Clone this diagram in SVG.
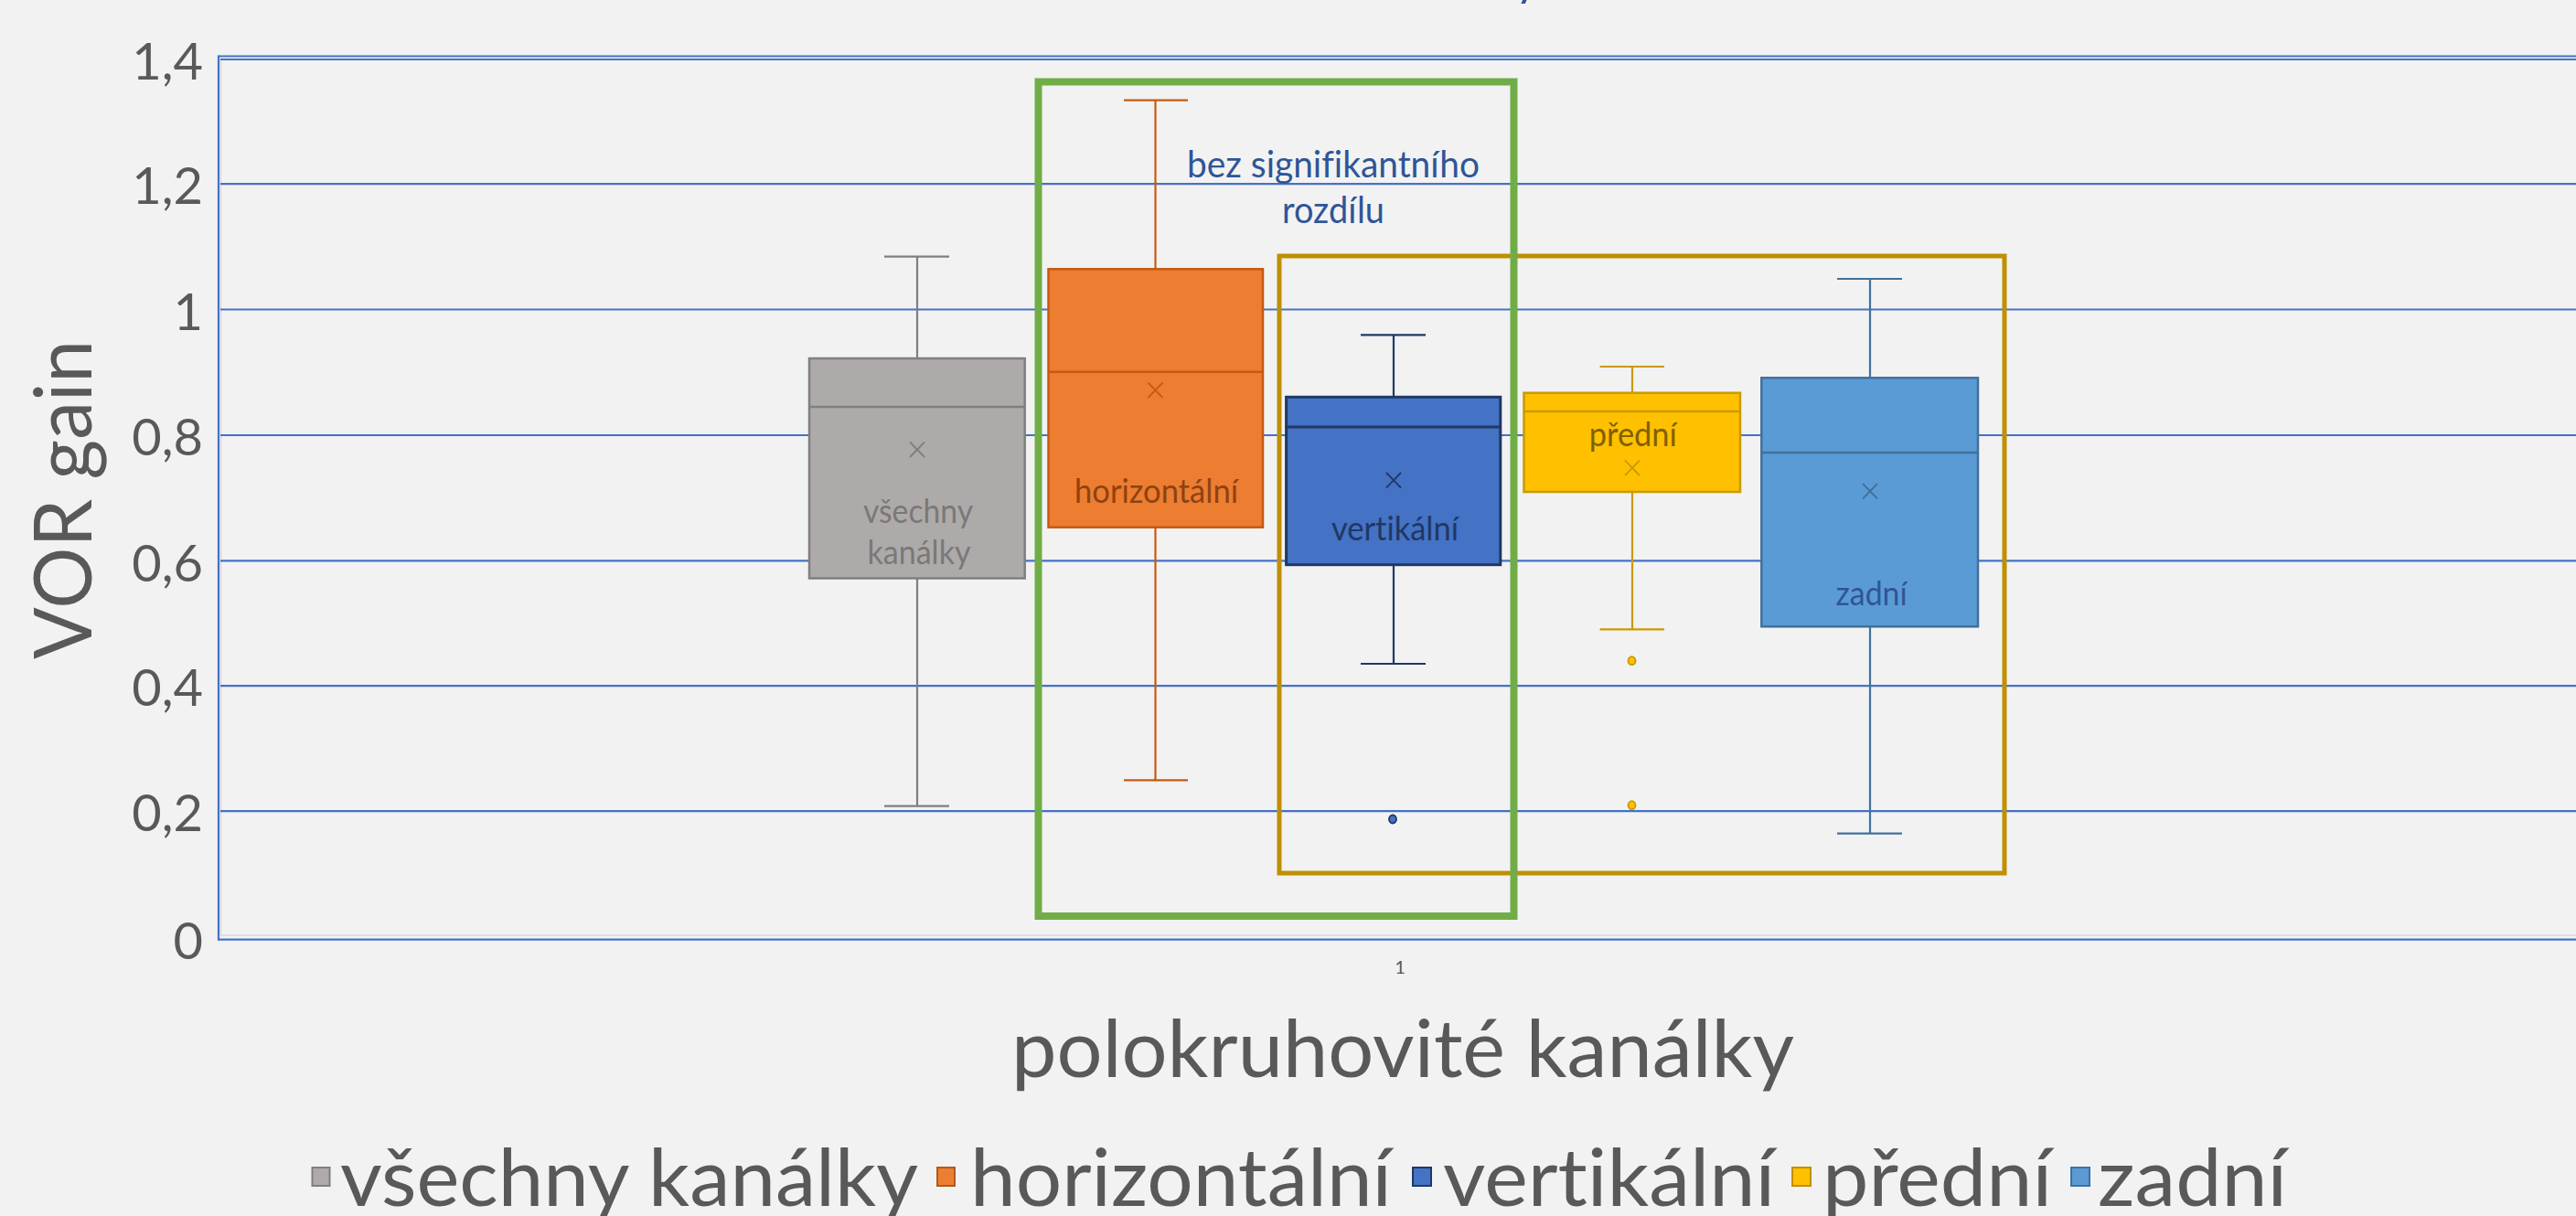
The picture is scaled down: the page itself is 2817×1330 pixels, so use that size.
<svg xmlns="http://www.w3.org/2000/svg" width="2817" height="1330" viewBox="0 0 2817 1330">
<style>
  text { font-family: Lato, "Open Sans", "Liberation Sans", sans-serif; font-variant-ligatures: none; font-feature-settings: "liga" 0, "clig" 0, "dlig" 0; }
  .tick { font-size: 56px; fill: #595959; text-anchor: end; }
  .big { font-size: 88px; fill: #595959; }
  .grid { stroke: #4472c4; stroke-width: 2.2; fill: none; }
  .border { stroke: #d9d9d9; stroke-width: 1.5; fill: none; }
  .lbl { font-size: 37px; text-anchor: middle; }
  .ann { font-size: 40px; fill: #2f5597; text-anchor: middle; }
  .w { stroke-width: 2.2; fill: none; }
  .mean { stroke-width: 1.8; fill: none; }
  .bx { stroke-width: 2.5; }
  .g-s { stroke: #7f7f7f; }  .g-f { fill: #aeaaaa; }
  .o-s { stroke: #c55a11; }  .o-f { fill: #ed7d31; }
  .v-s { stroke: #203864; }  .v-f { fill: #4472c4; }
  .y-s { stroke: #c99a00; }  .y-f { fill: #ffc000; }
  .z-s { stroke: #41719c; }  .z-f { fill: #5b9bd5; }
</style>
<rect x="0" y="0" width="2817" height="1330" fill="#f2f2f2"/>

<!-- title fragment (cut off at top) -->
<text x="1657" y="-5" font-size="50" fill="#2f5597">y</text>

<!-- plot area and grid -->
<g id="grid">
  <line class="border" x1="241.5" y1="65" x2="241.5" y2="1023"/>
  <line class="border" x1="241" y1="1023" x2="2817" y2="1023"/>
  <line class="grid" x1="239" y1="61.5" x2="2817" y2="61.5"/>
  <line class="grid" x1="241" y1="65" x2="2817" y2="65"/>
  <line class="grid" x1="241" y1="201.2" x2="2817" y2="201.2"/>
  <line class="grid" x1="241" y1="338.5" x2="2817" y2="338.5"/>
  <line class="grid" x1="241" y1="476" x2="2817" y2="476"/>
  <line class="grid" x1="241" y1="613.4" x2="2817" y2="613.4"/>
  <line class="grid" x1="241" y1="750.2" x2="2817" y2="750.2"/>
  <line class="grid" x1="241" y1="887.2" x2="2817" y2="887.2"/>
  <line class="grid" x1="239" y1="1027.6" x2="2817" y2="1027.6"/>
  <line class="grid" x1="239" y1="60.5" x2="239" y2="1028.7"/>
</g>

<!-- axes labels -->
<g id="y-ticks">
  <text class="tick" x="222" y="87">1,4</text>
  <text class="tick" x="222" y="223">1,2</text>
  <text class="tick" x="222" y="360.5">1</text>
  <text class="tick" x="222" y="498">0,8</text>
  <text class="tick" x="222" y="635.5">0,6</text>
  <text class="tick" x="222" y="772">0,4</text>
  <text class="tick" x="222" y="909">0,2</text>
  <text class="tick" x="222" y="1049">0</text>
</g>
<text class="big" font-size="85" transform="translate(100,546.5) rotate(-90)" text-anchor="middle" textLength="349" lengthAdjust="spacingAndGlyphs">VOR gain</text>
<text x="1531" y="1065" font-size="20" fill="#595959" text-anchor="middle">1</text>
<text class="big" x="1106" y="1178" textLength="856" lengthAdjust="spacingAndGlyphs">polokruhovité kanálky</text>

<!-- box plot nodes -->
<g id="box-vsechny">
  <line class="w g-s" x1="1003" y1="280.7" x2="1003" y2="392"/>
  <line class="w g-s" x1="967" y1="280.7" x2="1038" y2="280.7"/>
  <line class="w g-s" x1="1003" y1="632.5" x2="1003" y2="881.7"/>
  <line class="w g-s" x1="967" y1="881.7" x2="1038" y2="881.7"/>
  <rect class="bx g-f g-s" x="885" y="392" width="235.7" height="240.5"/>
  <line class="bx g-s" x1="885" y1="445" x2="1120.7" y2="445"/>
  <path class="mean g-s" d="M995,483.5 L1011,500 M1011,483.5 L995,500"/>
  <text class="lbl" x="1004" y="571.7" fill="#7b7878" textLength="120" lengthAdjust="spacingAndGlyphs">všechny</text>
  <text class="lbl" x="1005" y="616.7" fill="#7b7878" textLength="113" lengthAdjust="spacingAndGlyphs">kanálky</text>
</g>

<g id="box-horizontalni">
  <line class="w o-s" x1="1263.5" y1="109.6" x2="1263.5" y2="294.3"/>
  <line class="w o-s" x1="1229" y1="109.6" x2="1299" y2="109.6"/>
  <line class="w o-s" x1="1263.5" y1="576.7" x2="1263.5" y2="853.3"/>
  <line class="w o-s" x1="1229" y1="853.3" x2="1299" y2="853.3"/>
  <rect class="bx o-f o-s" x="1146.5" y="294.3" width="234.5" height="282.4"/>
  <line class="bx o-s" x1="1146.5" y1="406.7" x2="1381" y2="406.7"/>
  <path class="mean o-s" d="M1255.5,418.5 L1271.5,435 M1271.5,418.5 L1255.5,435"/>
  <text class="lbl" x="1264.5" y="550" fill="#8f4210" textLength="179" lengthAdjust="spacingAndGlyphs">horizontální</text>
</g>

<g id="box-vertikalni">
  <line class="w v-s" x1="1524" y1="366.3" x2="1524" y2="434.3"/>
  <line class="w v-s" x1="1488" y1="366.3" x2="1559" y2="366.3"/>
  <line class="w v-s" x1="1524" y1="617.7" x2="1524" y2="726"/>
  <line class="w v-s" x1="1488" y1="726" x2="1559" y2="726"/>
  <rect class="v-f v-s" stroke-width="3" x="1406.6" y="434.3" width="234.2" height="183.4"/>
  <line class="v-s" stroke-width="3" x1="1406.6" y1="467" x2="1640.8" y2="467"/>
  <path class="mean v-s" d="M1516,517 L1532,533.5 M1532,517 L1516,533.5"/>
  <text class="lbl" x="1525.5" y="590.7" fill="#203864" textLength="139" lengthAdjust="spacingAndGlyphs">vertikální</text>
  <ellipse class="v-f v-s" stroke-width="1.8" cx="1523" cy="896" rx="4" ry="4.5"/>
</g>

<g id="box-predni">
  <line class="w y-s" x1="1785" y1="401" x2="1785" y2="429.7"/>
  <line class="w y-s" x1="1749.6" y1="401" x2="1820" y2="401"/>
  <line class="w y-s" x1="1785" y1="538" x2="1785" y2="688.3"/>
  <line class="w y-s" x1="1749.6" y1="688.3" x2="1820" y2="688.3"/>
  <rect class="bx y-f y-s" x="1666.5" y="429.7" width="236.5" height="108.3"/>
  <line class="bx y-s" x1="1666.5" y1="450" x2="1903" y2="450"/>
  <text class="lbl" x="1785.8" y="488.3" fill="#7f6000" textLength="96" lengthAdjust="spacingAndGlyphs">přední</text>
  <path class="mean y-s" d="M1777,503.5 L1793,520 M1793,503.5 L1777,520"/>
  <ellipse class="y-f y-s" stroke-width="1.8" cx="1784.5" cy="722.7" rx="4" ry="4.5"/>
  <ellipse class="y-f y-s" stroke-width="1.8" cx="1784.5" cy="880.7" rx="4" ry="4.5"/>
</g>

<g id="box-zadni">
  <line class="w z-s" x1="2045" y1="305" x2="2045" y2="413.3"/>
  <line class="w z-s" x1="2009" y1="305" x2="2080" y2="305"/>
  <line class="w z-s" x1="2045" y1="685.3" x2="2045" y2="911.7"/>
  <line class="w z-s" x1="2009" y1="911.7" x2="2080" y2="911.7"/>
  <rect class="bx z-f z-s" x="1926.3" y="413.3" width="236.7" height="272"/>
  <line class="bx z-s" x1="1926.3" y1="495" x2="2163" y2="495"/>
  <path class="mean z-s" d="M2037,529 L2053,545.5 M2053,529 L2037,545.5"/>
  <text class="lbl" x="2046.6" y="661.7" fill="#2f5597" textLength="78" lengthAdjust="spacingAndGlyphs">zadní</text>
</g>

<!-- highlight frames -->
<g id="frame-gold">
  <rect x="1399" y="280" width="793" height="675" fill="none" stroke="#bf9000" stroke-width="5"/>
</g>
<g id="frame-green">
  <rect x="1135.5" y="89.5" width="520" height="912.5" fill="none" stroke="#70ad47" stroke-width="8"/>
</g>

<g id="annotation">
  <text class="ann" x="1458" y="194" textLength="320" lengthAdjust="spacingAndGlyphs">bez signifikantního</text>
  <text class="ann" x="1458" y="244" textLength="112" lengthAdjust="spacingAndGlyphs">rozdílu</text>
</g>

<g id="connectors"></g>

<!-- legend -->
<g id="legend">
  <rect x="341.5" y="1277" width="19" height="20" fill="#aeaaaa" stroke="#7f7f7f" stroke-width="2"/>
  <text class="big" x="372" y="1319" textLength="632" lengthAdjust="spacingAndGlyphs">všechny kanálky</text>
  <rect x="1025" y="1277" width="19" height="20" fill="#ed7d31" stroke="#ae5a21" stroke-width="2"/>
  <text class="big" x="1061" y="1319" textLength="461" lengthAdjust="spacingAndGlyphs">horizontální</text>
  <rect x="1545" y="1277" width="20" height="20" fill="#4472c4" stroke="#203864" stroke-width="2"/>
  <text class="big" x="1578" y="1319" textLength="363" lengthAdjust="spacingAndGlyphs">vertikální</text>
  <rect x="1960" y="1277" width="20" height="20" fill="#ffc000" stroke="#bf9000" stroke-width="2"/>
  <text class="big" x="1993" y="1319" textLength="251" lengthAdjust="spacingAndGlyphs">přední</text>
  <rect x="2265" y="1277" width="20" height="20" fill="#5b9bd5" stroke="#41719c" stroke-width="2"/>
  <text class="big" x="2294" y="1319" textLength="207" lengthAdjust="spacingAndGlyphs">zadní</text>
</g>
</svg>
